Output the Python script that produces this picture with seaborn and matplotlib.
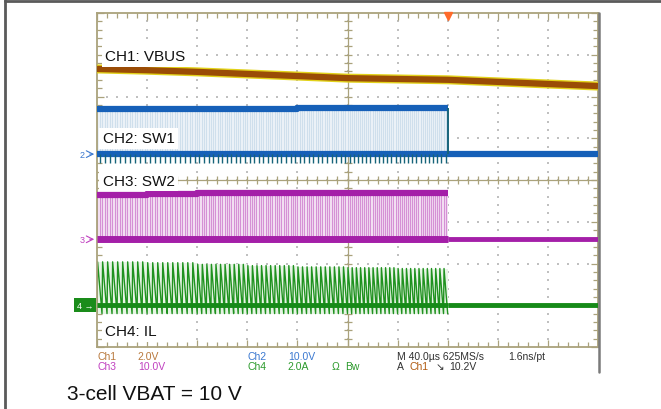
import numpy as np
import matplotlib
matplotlib.use("Agg")
from matplotlib import pyplot as plt
from matplotlib.lines import Line2D
from matplotlib.ticker import MultipleLocator
import seaborn as sns

# scope screen is 10 x 8 divisions, 40 us/div; all levels below are read in divisions
div_marks = [0, 1, 2, 3, 4, 5, 6, 7, 8, 9, 10]
vbus_level = [6.66, 6.63, 6.59, 6.54, 6.49, 6.44, 6.42, 6.40, 6.35, 6.30, 6.25]

# converter switches for the first 7 divisions, then stops
stop_div = 7.0
pulses_per_div = [10, 10, 11, 11, 11, 12, 12]
sw1_high = [5.70, 5.70, 5.71, 5.71, 5.72, 5.72, 5.72]
sw1_low = 4.62
sw1_dip = 4.40
sw2_high = [3.63, 3.66, 3.69, 3.70, 3.70, 3.70, 3.70]
sw2_low = 2.58
il_peak = [2.04, 2.02, 1.98, 1.95, 1.92, 1.90, 1.88]
il_valley = 0.80
il_idle = 1.00

# readout text under the screen
readout_row1 = [("Ch1", 97, "#b8783c"), ("2.0V", 137, "#b8783c"),
                ("Ch2", 247, "#3a78d0"), ("10.0V", 288, "#3a78d0"),
                ("M 40.0\u00b5s 625MS/s", 397, "#303030"), ("1.6ns/pt", 508, "#303030")]
readout_row2 = [("Ch3", 97, "#c040c0"), ("10.0V", 138, "#c040c0"),
                ("Ch4", 247, "#2c9a2c"), ("2.0A", 287, "#2c9a2c"),
                ("\u03a9", 332, "#2c9a2c"), ("Bw", 345, "#2c9a2c"),
                ("A", 397, "#303030"), ("Ch1", 409, "#b05a10"),
                ("\u2198", 436, "#303030"), ("10.2V", 449, "#303030")]

sns.set_theme(style="white")
plt.rcParams['font.family'] = ['Liberation Sans', 'DejaVu Sans']

W, H = 661, 410
fig = plt.figure(figsize=(6.61, 4.10), dpi=100)
ax = fig.add_axes([97 / W, (H - 348) / H, 501 / W, 334 / H])
ax.set_xlim(0, 10)
ax.set_ylim(0, 8)

# pulse start times and per-pulse envelope levels
starts, periods, div_idx = [], [], []
for d, n in enumerate(pulses_per_div):
    for k in range(n):
        starts.append(d + k / n)
        periods.append(1.0 / n)
        div_idx.append(d)

# ---- graticule ----
tan = "#aaa27c"
for s in ax.spines.values():
    s.set_color(tan)
    s.set_linewidth(1.3)
ax.xaxis.set_major_locator(MultipleLocator(1))
ax.yaxis.set_major_locator(MultipleLocator(1))
ax.xaxis.set_minor_locator(MultipleLocator(0.2))
ax.yaxis.set_minor_locator(MultipleLocator(0.2))
ax.tick_params(which="both", direction="in", top=True, right=True, bottom=True, left=True,
               color=tan, labelbottom=False, labelleft=False)
ax.tick_params(which="minor", length=3.5, width=0.9)
ax.tick_params(which="major", length=5, width=0.9)
gx, gy = np.meshgrid(np.arange(1, 10), np.arange(0.2, 8, 0.2))
ax.scatter(gx.ravel(), gy.ravel(), s=0.8, color="#c0c0c0", marker="s", lw=0, zorder=0)
gx, gy = np.meshgrid(np.arange(0.2, 10, 0.2), np.arange(1, 8))
ax.scatter(gx.ravel(), gy.ravel(), s=0.8, color="#c0c0c0", marker="s", lw=0, zorder=0)
ax.axhline(4, color=tan, lw=0.9, zorder=0.5)
ax.axvline(5, color=tan, lw=0.9, zorder=0.5)
mt = np.arange(0.2, 10, 0.2)
ax.plot(mt, np.full_like(mt, 4), ls="none", marker="|", ms=5.5, mew=0.9, color=tan, zorder=0.5)
mt = np.arange(0.2, 8, 0.2)
ax.plot(np.full_like(mt, 5), mt, ls="none", marker="_", ms=5.5, mew=0.9, color=tan, zorder=0.5)

# ---- CH1 VBUS ----
sns.lineplot(x=div_marks, y=vbus_level, color="#e2d21a", lw=6.5, ax=ax, zorder=3,
             solid_capstyle="butt")
sns.lineplot(x=div_marks, y=vbus_level, color="#9a4c06", lw=4.5, ax=ax, zorder=3,
             solid_capstyle="butt")

# ---- CH2 SW1 ----
hi1 = [sw1_high[d] for d in div_idx]
ax.fill_between([0, stop_div], sw1_low, max(sw1_high), color="#edf3f8", lw=0, zorder=1)
t1, v1 = [0.0], [sw1_low]
for t, T, hi in zip(starts, periods, hi1):
    t1 += [t, t, t + 0.5 * T, t + 0.5 * T]
    v1 += [sw1_low, hi, hi, sw1_low]
t1.append(10.0)
v1.append(sw1_low)
sns.lineplot(x=t1, y=v1, sort=False, estimator=None, color="#cfdfec", lw=0.8, ax=ax, zorder=2)
sns.lineplot(x=div_marks[:8], y=sw1_high + [sw1_high[-1]], drawstyle="steps-post",
             color="#1660b8", lw=4.5, ax=ax, zorder=3, solid_capstyle="butt")
sns.lineplot(x=[0, 10], y=[sw1_low, sw1_low], color="#1660b8", lw=4.5, ax=ax, zorder=3,
             solid_capstyle="butt")
falls = [t + 0.5 * T for t, T in zip(starts, periods)]
ax.vlines(falls, sw1_dip, sw1_low, color="#17647a", lw=1.0, zorder=3)
ax.vlines([stop_div], sw1_low, sw1_high[-1], color="#17647a", lw=1.4, zorder=3)

# ---- CH3 SW2 ----
hi2 = [sw2_high[d] for d in div_idx]
ax.fill_between([0, stop_div], sw2_low, max(sw2_high), color="#f7eaf7", lw=0, zorder=1)
t2, v2 = [0.0], [sw2_low]
for t, T, hi in zip(starts, periods, hi2):
    t2 += [t, t, t + 0.5 * T, t + 0.5 * T]
    v2 += [sw2_low, hi, hi, sw2_low]
t2.append(10.0)
v2.append(sw2_low)
sns.lineplot(x=t2, y=v2, sort=False, estimator=None, color="#d590d5", lw=0.9, ax=ax, zorder=2)
sns.lineplot(x=div_marks[:8], y=sw2_high + [sw2_high[-1]], drawstyle="steps-post",
             color="#a41fa8", lw=4.5, ax=ax, zorder=3, solid_capstyle="butt")
sns.lineplot(x=[0, stop_div], y=[sw2_low, sw2_low], color="#a41fa8", lw=5, ax=ax, zorder=3,
             solid_capstyle="butt")
sns.lineplot(x=[stop_div, 10], y=[sw2_low, sw2_low], color="#a41fa8", lw=3.5, ax=ax, zorder=3,
             solid_capstyle="butt")

# ---- CH4 IL ----
pk4 = [il_peak[d] for d in div_idx]
ax.fill_between(div_marks[:8], il_valley, il_peak + [il_peak[-1]], step="post",
                color="#e8f4e6", lw=0, zorder=1)
t4, v4 = [0.0], [il_valley]
for t, T, pk in zip(starts, periods, pk4):
    t4 += [t, t + 0.12 * T, t + T]
    v4 += [il_valley, pk, il_valley]
sns.lineplot(x=t4, y=v4, sort=False, estimator=None, color="#1f921f", lw=1.0, ax=ax, zorder=2)
sns.lineplot(x=[0, stop_div], y=[il_idle, il_idle], color="#168a18", lw=3.5, ax=ax, zorder=3,
             solid_capstyle="butt")
sns.lineplot(x=[stop_div, 10], y=[il_idle, il_idle], color="#168a18", lw=3.5, ax=ax, zorder=3,
             solid_capstyle="butt")

# ---- channel names ----
lab = dict(fontsize=11, color="#111111", va="center", ha="left", zorder=6,
           bbox=dict(fc="white", ec="none", pad=2.5))
ax.text(0.16, 6.97, "CH1: VBUS", **lab)
ax.text(0.12, 5.0, "CH2: SW1", **lab)
ax.text(0.12, 3.98, "CH3: SW2", **lab)
ax.text(0.16, 0.38, "CH4: IL", **lab)

# ground reference markers left of the screen
ax.text(-0.29, sw1_low, "2", color="#3a78d0", fontsize=6.5, ha="center", va="center", clip_on=False)
ax.annotate("", xy=(0, sw1_low), xytext=(-0.2, sw1_low), annotation_clip=False,
            arrowprops=dict(arrowstyle="->", color="#3a78d0", lw=0.8))
ax.text(-0.29, sw2_low, "3", color="#c040c0", fontsize=6.5, ha="center", va="center", clip_on=False)
ax.annotate("", xy=(0, sw2_low), xytext=(-0.2, sw2_low), annotation_clip=False,
            arrowprops=dict(arrowstyle="->", color="#c040c0", lw=0.8))
ax.text(-0.24, il_idle, "4 \u2192", color="white", fontsize=6.5, ha="center", va="center",
        clip_on=False, bbox=dict(boxstyle="square,pad=0.3", fc="#1a8c1a", ec="none"))

# trigger position
ax.plot([stop_div], [7.93], marker="v", ms=6, color="#ff6a2a", clip_on=False, zorder=7)

# readout
for txt, x, c in readout_row1:
    fig.text(x / W, (H - 357) / H, txt, color=c, fontsize=7.5, va="center", ha="left")
for txt, x, c in readout_row2:
    fig.text(x / W, (H - 367) / H, txt, color=c, fontsize=7.5, va="center", ha="left")

fig.text(67 / W, (H - 395) / H, "3-cell VBAT = 10 V", fontsize=15, color="#111111",
         va="center", ha="left")

# page frame and screenshot edge
fig.add_artist(Line2D([4.5 / W, 4.5 / W], [0, 1], color="#5a5a5a", lw=2, transform=fig.transFigure))
fig.add_artist(Line2D([4.5 / W, 1], [(H - 1.5) / H] * 2, color="#5a5a5a", lw=2, transform=fig.transFigure))
fig.add_artist(Line2D([599 / W] * 2, [(H - 14) / H, (H - 373) / H], color="#7a7a7a", lw=1.8,
                      transform=fig.transFigure))

fig.savefig("out.png", dpi=100)
